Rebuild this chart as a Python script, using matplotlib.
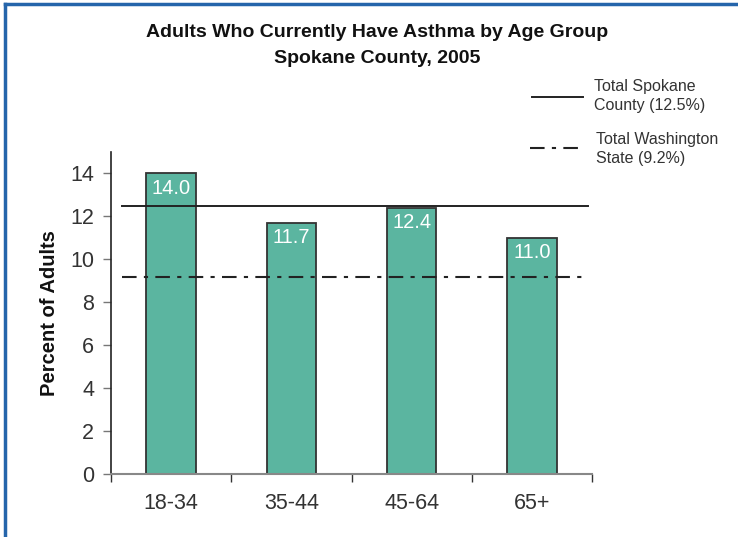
import matplotlib.pyplot as plt
from matplotlib.lines import Line2D

# data
age_groups = ["18-34", "35-44", "45-64", "65+"]
pct_adults = [14.0, 11.7, 12.4, 11.0]
spokane_total = 12.5
washington_total = 9.2
y_ticks = [0, 2, 4, 6, 8, 10, 12, 14]

plt.rcParams["font.family"] = ["Liberation Sans", "DejaVu Sans"]

fig = plt.figure(figsize=(7.38, 5.37), dpi=100)
ax = fig.add_axes([0.1504, 0.1173, 0.6518, 0.5996])

bar_color = "#5bb5a0"
text_color = "#333333"
dashdot = (0, (7, 3.5, 2, 3.5))

x = range(len(age_groups))
bars = ax.bar(x, pct_adults, width=0.41, color=bar_color,
              edgecolor="#333333", linewidth=1.3, zorder=2)

# value labels inside the bars
for b, v in zip(bars, pct_adults):
    ax.annotate(f"{v:.1f}", (b.get_x() + b.get_width() / 2, v),
                xytext=(0, -4), textcoords="offset points",
                ha="center", va="top", color="white",
                fontsize=14.5, zorder=4)

# reference lines
ax.plot([-0.41, 3.47], [spokane_total] * 2, color="#222222", lw=1.4, zorder=3)
ax.plot([-0.41, 3.425], [washington_total] * 2, color="#222222", lw=1.5,
        linestyle=dashdot, zorder=3)

ax.set_xlim(-0.5, 3.5)
ax.set_ylim(0, 15)
ax.set_yticks(y_ticks)
ax.set_xticks([-0.5, 0.5, 1.5, 2.5, 3.5])
ax.set_xticklabels([])
ax.set_xticks(list(x), minor=True)
ax.set_xticklabels(age_groups, minor=True)
ax.tick_params(axis="x", which="major", direction="out", length=6,
               color="#333333", width=1)
ax.tick_params(axis="x", which="minor", length=0, pad=14,
               labelsize=15.5, labelcolor=text_color)
ax.tick_params(axis="y", direction="out", length=6, width=1,
               color="#777777", labelsize=15.5, labelcolor=text_color, pad=6)

for s in ["top", "right"]:
    ax.spines[s].set_visible(False)
ax.spines["left"].set_color("#222222")
ax.spines["bottom"].set_color("#888888")
ax.spines["left"].set_linewidth(1.2)
ax.spines["bottom"].set_linewidth(1.5)

ax.set_ylabel("Percent of Adults", fontsize=14.5, fontweight="bold",
              color="#111111", labelpad=8)

# title
fig.text(0.511, 0.956, "Adults Who Currently Have Asthma by Age Group\nSpokane County, 2005",
         ha="center", va="top", fontsize=14, fontweight="bold",
         linespacing=1.7, color="#111111")

# hand-drawn legend at top right
fig.add_artist(Line2D([532 / 738, 583 / 738], [1 - 97 / 537] * 2,
                      color="#222222", lw=1.4))
fig.add_artist(Line2D([530 / 738, 582 / 738], [1 - 148 / 537] * 2,
                      color="#222222", lw=1.5, linestyle=dashdot))
fig.text(594 / 738, 1 - 96 / 537, "Total Spokane\nCounty (12.5%)",
         ha="left", va="center", fontsize=11.5, color=text_color, linespacing=1.35)
fig.text(596 / 738, 1 - 149 / 537, "Total Washington\nState (9.2%)",
         ha="left", va="center", fontsize=11.5, color=text_color, linespacing=1.35)

# blue frame on top and left edges
border = "#2565ab"
fig.add_artist(Line2D([5 / 738, 1], [1 - 4 / 537] * 2, color=border, lw=2.5))
fig.add_artist(Line2D([5 / 738] * 2, [0, 1 - 4 / 537], color=border, lw=2.5))

fig.savefig("out.png", dpi=100)
